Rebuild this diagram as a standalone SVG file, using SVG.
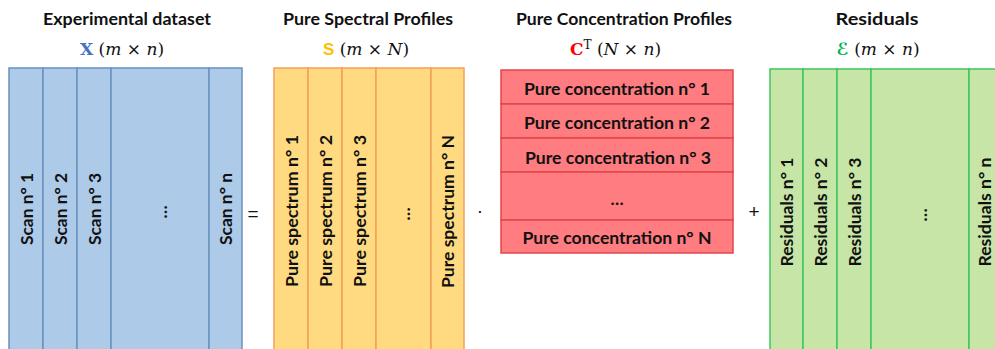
<svg xmlns="http://www.w3.org/2000/svg" width="995" height="349" viewBox="0 0 995 349">
<style>
.lbl{font-family:Lato,"Open Sans","Liberation Sans",sans-serif;font-weight:700;font-size:17px;fill:#111;text-anchor:middle;dominant-baseline:central}
.hdr{font-family:Lato,"Open Sans","Liberation Sans",sans-serif;font-weight:700;font-size:17.5px;fill:#111;text-anchor:middle}
.math{font-family:"DejaVu Serif","Liberation Serif",serif;font-size:17px;fill:#111;text-anchor:middle}
.it{font-style:italic}
.op{font-family:"Liberation Sans",sans-serif;font-size:19px;fill:#111;text-anchor:middle;dominant-baseline:central}
.blue rect{fill:#ADCAE8;stroke:#6A92BF;stroke-width:1.5}
.yel rect{fill:#FFDA80;stroke:#F5A05A;stroke-width:1.5}
.red rect{fill:#FF7C80;stroke:#E2454A;stroke-width:1.5}
.grn rect{fill:#C6E5A6;stroke:#3CC65E;stroke-width:1.5}
</style>

<g id="headers">
  <text class="hdr" x="127" y="25" textLength="168" lengthAdjust="spacingAndGlyphs">Experimental dataset</text>
  <text class="math" x="122" y="55"><tspan fill="#4472C4" font-weight="700">X</tspan> (<tspan class="it">m</tspan> × <tspan class="it">n</tspan>)</text>
  <text class="hdr" x="368" y="25" textLength="170" lengthAdjust="spacingAndGlyphs">Pure Spectral Profiles</text>
  <text class="math" x="366" y="55"><tspan fill="#FFC000" font-weight="700" font-family="Liberation Sans,sans-serif">S</tspan> (<tspan class="it">m</tspan> × <tspan class="it">N</tspan>)</text>
  <text class="hdr" x="624" y="25" textLength="216" lengthAdjust="spacingAndGlyphs">Pure Concentration Profiles</text>
  <text class="math" x="570" y="55" style="text-anchor:start"><tspan fill="#FF0000" font-weight="700">C</tspan><tspan font-size="12" dy="-6">T</tspan><tspan dy="6"> (</tspan><tspan class="it">N</tspan> × <tspan class="it">n</tspan>)</text>
  <text class="hdr" x="877" y="25" textLength="83" lengthAdjust="spacingAndGlyphs">Residuals</text>
  <text class="math" x="878" y="55"><tspan fill="#00B050" class="it" font-family="DejaVu Sans,sans-serif" font-weight="700">ℰ</tspan> (<tspan class="it">m</tspan> × <tspan class="it">n</tspan>)</text>
</g>

<g id="matrix-X" class="blue">
  <g id="x-col1"><rect x="9" y="68" width="34" height="290"/><text class="lbl" transform="translate(26,209) rotate(-90)" textLength="72" lengthAdjust="spacingAndGlyphs">Scan n° 1</text></g>
  <g id="x-col2"><rect x="43" y="68" width="34" height="290"/><text class="lbl" transform="translate(60,209) rotate(-90)" textLength="72" lengthAdjust="spacingAndGlyphs">Scan n° 2</text></g>
  <g id="x-col3"><rect x="77" y="68" width="34" height="290"/><text class="lbl" transform="translate(94,209) rotate(-90)" textLength="72" lengthAdjust="spacingAndGlyphs">Scan n° 3</text></g>
  <g id="x-coldots"><rect x="111" y="68" width="98" height="290"/><text class="lbl" transform="translate(160,212) rotate(-90)">…</text></g>
  <g id="x-coln"><rect x="209" y="68" width="33" height="290"/><text class="lbl" transform="translate(225.5,209) rotate(-90)" textLength="72" lengthAdjust="spacingAndGlyphs">Scan n° n</text></g>
</g>

<g id="matrix-S" class="yel">
  <g id="s-col1"><rect x="274" y="68" width="34" height="290"/><text class="lbl" transform="translate(291,211) rotate(-90)" textLength="152" lengthAdjust="spacingAndGlyphs">Pure spectrum n° 1</text></g>
  <g id="s-col2"><rect x="308" y="68" width="34" height="290"/><text class="lbl" transform="translate(325,211) rotate(-90)" textLength="152" lengthAdjust="spacingAndGlyphs">Pure spectrum n° 2</text></g>
  <g id="s-col3"><rect x="342" y="68" width="34" height="290"/><text class="lbl" transform="translate(359,211) rotate(-90)" textLength="152" lengthAdjust="spacingAndGlyphs">Pure spectrum n° 3</text></g>
  <g id="s-coldots"><rect x="376" y="68" width="55" height="290"/><text class="lbl" transform="translate(403.5,214) rotate(-90)">…</text></g>
  <g id="s-colN"><rect x="431" y="68" width="33" height="290"/><text class="lbl" transform="translate(447.5,211.5) rotate(-90)" textLength="153" lengthAdjust="spacingAndGlyphs">Pure spectrum n° N</text></g>
</g>

<g id="matrix-CT" class="red">
  <g id="c-row1"><rect x="501" y="70" width="232" height="34"/><text class="lbl" x="617" y="88" textLength="186" lengthAdjust="spacingAndGlyphs">Pure concentration n° 1</text></g>
  <g id="c-row2"><rect x="501" y="104" width="232" height="34"/><text class="lbl" x="617" y="122" textLength="186" lengthAdjust="spacingAndGlyphs">Pure concentration n° 2</text></g>
  <g id="c-row3"><rect x="501" y="138" width="232" height="34"/><text class="lbl" x="618" y="157" textLength="186" lengthAdjust="spacingAndGlyphs">Pure concentration n° 3</text></g>
  <g id="c-rowdots"><rect x="501" y="172" width="232" height="48"/><text class="lbl" x="617" y="198">…</text></g>
  <g id="c-rowN"><rect x="501" y="220" width="232" height="33"/><text class="lbl" x="617" y="237" textLength="189" lengthAdjust="spacingAndGlyphs">Pure concentration n° N</text></g>
</g>

<g id="matrix-E" class="grn">
  <g id="e-col1"><rect x="770" y="69" width="33" height="290"/><text class="lbl" transform="translate(786.5,212) rotate(-90)" textLength="109" lengthAdjust="spacingAndGlyphs">Residuals n° 1</text></g>
  <g id="e-col2"><rect x="803" y="69" width="34" height="290"/><text class="lbl" transform="translate(820,212) rotate(-90)" textLength="109" lengthAdjust="spacingAndGlyphs">Residuals n° 2</text></g>
  <g id="e-col3"><rect x="837" y="69" width="34" height="290"/><text class="lbl" transform="translate(854,212) rotate(-90)" textLength="109" lengthAdjust="spacingAndGlyphs">Residuals n° 3</text></g>
  <g id="e-coldots"><rect x="871" y="69" width="98" height="290"/><text class="lbl" transform="translate(920,215) rotate(-90)">…</text></g>
  <g id="e-coln"><rect x="969" y="69" width="34" height="290"/><text class="lbl" transform="translate(984,212) rotate(-90)" textLength="109" lengthAdjust="spacingAndGlyphs">Residuals n° n</text></g>
</g>

<g id="connectors">
  <text class="op" x="253" y="213">=</text>
  <text class="op" x="480" y="210">·</text>
  <text class="op" x="754" y="211">+</text>
</g>
</svg>
